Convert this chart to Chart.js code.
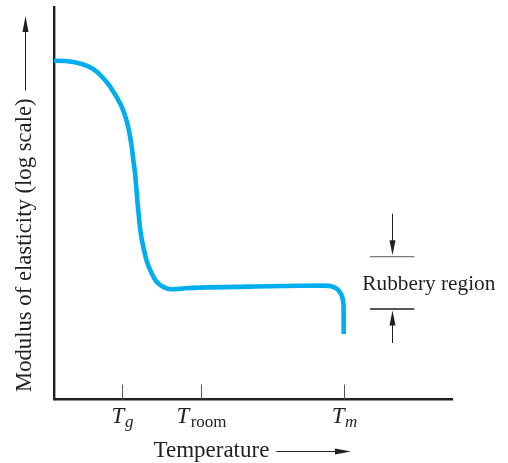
<!DOCTYPE html>
<html>
<head>
<meta charset="utf-8">
<script src="https://cdn.jsdelivr.net/npm/chart.js@4/dist/chart.umd.min.js"></script>
<style>
  html, body { margin: 0; padding: 0; background: #ffffff; }
  canvas { display: block; }
</style>
</head>
<body>
<canvas id="c" width="508" height="463"></canvas>
<script>
// ---- data (arbitrary units: temperature 0..100, log modulus 0..100) ----
const temperature = [0, 2.76, 4.84, 7.02, 9.03, 10.79, 12.37, 13.67, 14.87, 15.98, 16.98, 17.73, 18.38, 18.96, 19.49, 19.89, 20.32, 20.62, 20.89, 21.22, 21.52, 21.95, 22.57, 23.33, 24.50, 25.58, 27.01, 28.34, 29.60, 32.86, 36.62, 49.16, 61.70, 67.22, 68.97, 69.98, 70.86, 71.56, 72.06, 72.39, 72.56, 72.64, 72.66];
const logModulus  = [86.43, 86.35, 86.12, 85.59, 84.74, 83.55, 81.94, 80.36, 78.52, 76.66, 74.69, 72.70, 70.46, 67.73, 64.49, 61.10, 57.70, 54.34, 50.89, 47.45, 44.26, 41.20, 38.14, 35.08, 32.19, 30.23, 28.95, 28.32, 28.14, 28.37, 28.55, 28.80, 29.01, 29.06, 28.98, 28.75, 28.29, 27.60, 26.73, 25.77, 24.62, 22.83, 16.71];
const tickValues  = [17.13, 36.79, 72.74];
const tickMain    = ['T', 'T', 'T'];
const tickSub     = ['g', 'room', 'm'];
const tickSubItalic = [true, false, true];
const xTitle = 'Temperature';
const yTitle = 'Modulus of elasticity (log scale)';
const regionLabel = 'Rubbery region';
// rubbery-region bracket (data units)
const regionTop = 36.43, regionBottom = 23.09;

const SERIF = '"Liberation Serif", "Times New Roman", serif';
const points = temperature.map((t, i) => ({ x: t, y: logModulus[i] }));

function arrowHead(ctx, tipX, tipY, dx, dy, len, half) {
  const bx = tipX - dx * len, by = tipY - dy * len;
  const nx = -dy, ny = dx;
  ctx.beginPath();
  ctx.moveTo(tipX, tipY);
  ctx.lineTo(bx + nx * half, by + ny * half);
  ctx.lineTo(bx, by);
  ctx.lineTo(bx - nx * half, by - ny * half);
  ctx.closePath();
  ctx.fill();
}

const annotations = {
  id: 'annotations',
  afterDraw(chart) {
    const { ctx, chartArea, scales: { x, y } } = chart;
    ctx.save();
    const ink = '#231f20';

    // inward tick marks and composite tick labels
    tickValues.forEach((v, i) => {
      const px = Math.round(x.getPixelForValue(v)) + 0.5;
      ctx.strokeStyle = '#555555';
      ctx.lineWidth = 1;
      ctx.beginPath();
      ctx.moveTo(px, chartArea.bottom - 15);
      ctx.lineTo(px, chartArea.bottom);
      ctx.stroke();

      ctx.fillStyle = ink;
      ctx.textBaseline = 'alphabetic';
      ctx.textAlign = 'left';
      ctx.font = 'italic 23px ' + SERIF;
      const wT = ctx.measureText(tickMain[i]).width;
      const subFont = (tickSubItalic[i] ? 'italic ' : '') + '17px ' + SERIF;
      ctx.font = subFont;
      const wS = ctx.measureText(tickSub[i]).width;
      const gap = tickSubItalic[i] ? 0.5 : 1.5;
      const left = px - (wT + gap + wS) / 2;
      ctx.font = 'italic 23px ' + SERIF;
      ctx.fillText(tickMain[i], left, 423);
      ctx.font = subFont;
      ctx.fillText(tickSub[i], left + wT + gap, 426.5);
    });

    // x-axis title with arrow
    ctx.fillStyle = ink;
    ctx.font = '23px ' + SERIF;
    ctx.textAlign = 'left';
    ctx.fillText(xTitle, 153.5, 457);
    const tw = ctx.measureText(xTitle).width;
    ctx.strokeStyle = ink;
    ctx.lineWidth = 1;
    ctx.beginPath();
    ctx.moveTo(153.5 + tw + 7, 451.5);
    ctx.lineTo(340, 451.5);
    ctx.stroke();
    arrowHead(ctx, 351, 451.5, 1, 0, 16, 3);

    // y-axis title with arrow (rotated)
    ctx.save();
    ctx.translate(31, 392);
    ctx.rotate(-Math.PI / 2);
    ctx.font = '22.7px ' + SERIF;
    ctx.fillText(yTitle, 0, 0);
    const yw = ctx.measureText(yTitle).width;
    ctx.restore();
    ctx.beginPath();
    ctx.moveTo(25.5, 392 - yw - 8);
    ctx.lineTo(25.5, 28);
    ctx.stroke();
    arrowHead(ctx, 25.5, 16, 0, -1, 16, 3);

    // rubbery region bracket
    const cx = Math.round(x.getPixelForValue(84.85)) + 0.5;
    const lx0 = x.getPixelForValue(79.26), lx1 = x.getPixelForValue(90.37);
    const yTopLine = y.getPixelForValue(regionTop);
    const yBotLine = y.getPixelForValue(regionBottom);
    ctx.lineWidth = 1.3;
    ctx.strokeStyle = '#7a7a7a';
    ctx.beginPath(); ctx.moveTo(lx0, yTopLine); ctx.lineTo(lx1, yTopLine); ctx.stroke();
    ctx.strokeStyle = ink;
    ctx.beginPath(); ctx.moveTo(lx0, yBotLine); ctx.lineTo(lx1, yBotLine); ctx.stroke();
    ctx.lineWidth = 1;
    ctx.beginPath(); ctx.moveTo(cx, yTopLine - 43); ctx.lineTo(cx, yTopLine - 10); ctx.stroke();
    arrowHead(ctx, cx, yTopLine - 1.5, 0, 1, 15, 3);
    ctx.beginPath(); ctx.moveTo(cx, yBotLine + 34); ctx.lineTo(cx, yBotLine + 10); ctx.stroke();
    arrowHead(ctx, cx, yBotLine + 1.5, 0, -1, 15, 3);

    ctx.font = '21.3px ' + SERIF;
    ctx.fillStyle = ink;
    ctx.fillText(regionLabel, 362.3, 290);

    ctx.restore();
  }
};

new Chart(document.getElementById('c'), {
  type: 'line',
  data: {
    datasets: [{
      data: points,
      borderColor: '#00aeef',
      borderWidth: 4.6,
      pointRadius: 0,
      fill: false,
      cubicInterpolationMode: 'monotone',
      borderCapStyle: 'butt',
      borderJoinStyle: 'round',
      clip: false
    }]
  },
  options: {
    responsive: false,
    devicePixelRatio: 1,
    animation: false,
    layout: { padding: { left: 54, right: 55.3, top: 7.5, bottom: 63.5 } },
    plugins: { legend: { display: false }, tooltip: { enabled: false }, title: { display: false } },
    scales: {
      x: {
        type: 'linear', min: 0, max: 100,
        grid: { display: false },
        ticks: { display: false },
        border: { display: true, color: '#231f20', width: 2.4 },
        afterFit: s => { s.height = 0; }
      },
      y: {
        type: 'linear', min: 0, max: 100,
        grid: { display: false },
        ticks: { display: false },
        border: { display: true, color: '#231f20', width: 2.4 },
        afterFit: s => { s.width = 0; }
      }
    }
  },
  plugins: [annotations]
});
</script>
</body>
</html>
